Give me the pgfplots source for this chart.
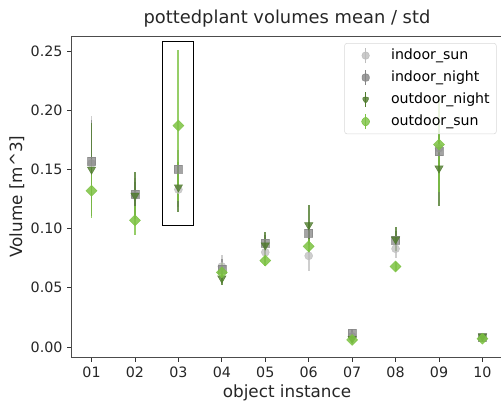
\documentclass[border=0pt]{standalone}
\usepackage{pgfplots}
\pgfplotsset{compat=1.18}
\usepackage{pgfplotstable}
\usepackage{fontspec}
\setmainfont{DejaVu Sans}
\definecolor{isun}{HTML}{BDBDBD}
\definecolor{inight}{HTML}{858585}
\definecolor{onight}{HTML}{4E7A2C}
\definecolor{osun}{HTML}{7CC242}

\pgfplotstableread{
x y e
1 0.155 0.040
2 0.128 0.015
3 0.133 0.015
4 0.068 0.010
5 0.080 0.008
6 0.077 0.013
7 0.009 0.003
8 0.083 0.008
9 0.168 0.020
10 0.008 0.003
}\isuntab
\pgfplotstableread{
x y e
1 0.157 0.035
2 0.129 0.010
3 0.150 0.016
4 0.066 0.008
5 0.088 0.007
6 0.096 0.010
7 0.012 0.003
8 0.090 0.008
9 0.165 0.015
10 0.008 0.003
}\inighttab
\pgfplotstableread{
x y e
1 0.150 0.039
2 0.128 0.020
3 0.135 0.021
4 0.058 0.006
5 0.086 0.011
6 0.103 0.017
7 0.007 0.003
8 0.091 0.010
9 0.151 0.032
10 0.009 0.003
}\onighttab
\pgfplotstableread{
x y e
1 0.132 0.023
2 0.107 0.012
3 0.187 0.064
4 0.063 0.008
5 0.073 0.005
6 0.085 0.006
7 0.006 0.002
8 0.068 0.004
9 0.171 0.040
10 0.007 0.002
}\osuntab

\begin{document}
\begin{tikzpicture}
\useasboundingbox (0,0) rectangle (375.75pt,300.75pt);
\begin{axis}[
  at={(54pt,33pt)}, anchor=south west,
  scale only axis, width=322.5pt, height=240.75pt,
  xmin=0.55, xmax=10.45, ymin=-0.00845, ymax=0.2627,
  xtick={1,...,10},
  xticklabels={01,02,03,04,05,06,07,08,09,10},
  ytick={0,0.05,0.1,0.15,0.2,0.25},
  yticklabel style={/pgf/number format/.cd, fixed, fixed zerofill, precision=2},
  /pgf/number format/assume math mode=true,
  tick align=outside, major tick length=3.6pt,
  tick style={color=black!80, line width=0.6pt},
  xtick pos=bottom, ytick pos=left,
  axis line style={color=black!70, line width=0.75pt},
  ticklabel style={font=\fontsize{10.7}{12}\selectfont, color=black!85},
  label style={font=\fontsize{12.6}{14}\selectfont, color=black!85},
  title style={font=\fontsize{13.4}{15}\selectfont, color=black!85, yshift=-3pt},
  title={pottedplant volumes mean / std},
  xlabel={object instance}, ylabel={Volume [m\textasciicircum 3]},
  xlabel style={yshift=1.5pt},
  ylabel style={yshift=-2pt},
  legend style={at={(1,1)}, anchor=north east, xshift=-4pt, yshift=-5.25pt,
    draw=black!15, rounded corners=2pt, fill=white, fill opacity=0.8, text opacity=1,
    font=\fontsize{10.6}{12}\selectfont, row sep=2pt, inner xsep=3pt, inner ysep=2pt,
    nodes={text depth=0.25em, text height=0.8em}},
  legend cell align=left,
  error bars/y dir=both, error bars/y explicit,
  error bars/error mark=none,
]
\addplot+[forget plot, only marks, mark=*, mark size=3pt, color=isun, mark options={fill=isun, draw=isun, opacity=0.75},
  error bars/error bar style={line width=1.4pt, color=isun, opacity=0.75}]
  table[x=x, y=y, y error=e] {\isuntab};
\addplot+[forget plot, only marks, mark=square*, mark size=3pt, color=inight, mark options={fill=inight, draw=inight, opacity=0.75},
  error bars/error bar style={line width=1.4pt, color=inight, opacity=0.75}]
  table[x=x, y=y, y error=e] {\inighttab};
\addplot+[forget plot, only marks, mark=triangle*, mark size=3.6pt, color=onight, mark options={fill=onight, draw=onight, opacity=0.8, rotate=180},
  error bars/error bar style={line width=1.4pt, color=onight, opacity=0.8}]
  table[x=x, y=y, y error=e] {\onighttab};
\addplot+[forget plot, only marks, mark=square*, mark size=2.9pt, color=osun, mark options={fill=osun, draw=osun, opacity=0.85, rotate=45},
  error bars/error bar style={line width=1.4pt, color=osun, opacity=0.8}]
  table[x=x, y=y, y error=e] {\osuntab};
\addlegendimage{legend image code/.code={\path[draw=none,fill=none] (0cm,-0.1cm) rectangle (1.05cm,0.1cm); \draw[line width=1.1pt, isun] (0.45cm,-0.2cm) -- (0.45cm,0.2cm); \fill[isun] (0.45cm,0cm) circle (2.8pt);}}
\addlegendentry{indoor\_sun}
\addlegendimage{legend image code/.code={\path[draw=none,fill=none] (0cm,-0.1cm) rectangle (1.05cm,0.1cm); \draw[line width=1.1pt, inight] (0.45cm,-0.2cm) -- (0.45cm,0.2cm); \fill[inight] (0.45cm-2.7pt,-2.7pt) rectangle (0.45cm+2.7pt,2.7pt);}}
\addlegendentry{indoor\_night}
\addlegendimage{legend image code/.code={\path[draw=none,fill=none] (0cm,-0.1cm) rectangle (1.05cm,0.1cm); \draw[line width=1.1pt, onight] (0.45cm,-0.2cm) -- (0.45cm,0.2cm); \fill[onight] (0.45cm-3pt,1.8pt) -- (0.45cm+3pt,1.8pt) -- (0.45cm,-3.4pt) -- cycle;}}
\addlegendentry{outdoor\_night}
\addlegendimage{legend image code/.code={\path[draw=none,fill=none] (0cm,-0.1cm) rectangle (1.05cm,0.1cm); \draw[line width=1.1pt, osun] (0.45cm,-0.2cm) -- (0.45cm,0.2cm); \fill[osun] (0.45cm,-4.1pt) -- (0.45cm+3.8pt,0pt) -- (0.45cm,4.1pt) -- (0.45cm-3.8pt,0pt) -- cycle;}}
\addlegendentry{outdoor\_sun}
\draw[black, line width=0.75pt] (axis cs:2.63,0.103) rectangle (axis cs:3.34,0.258);
\end{axis}
\end{tikzpicture}
\end{document}
